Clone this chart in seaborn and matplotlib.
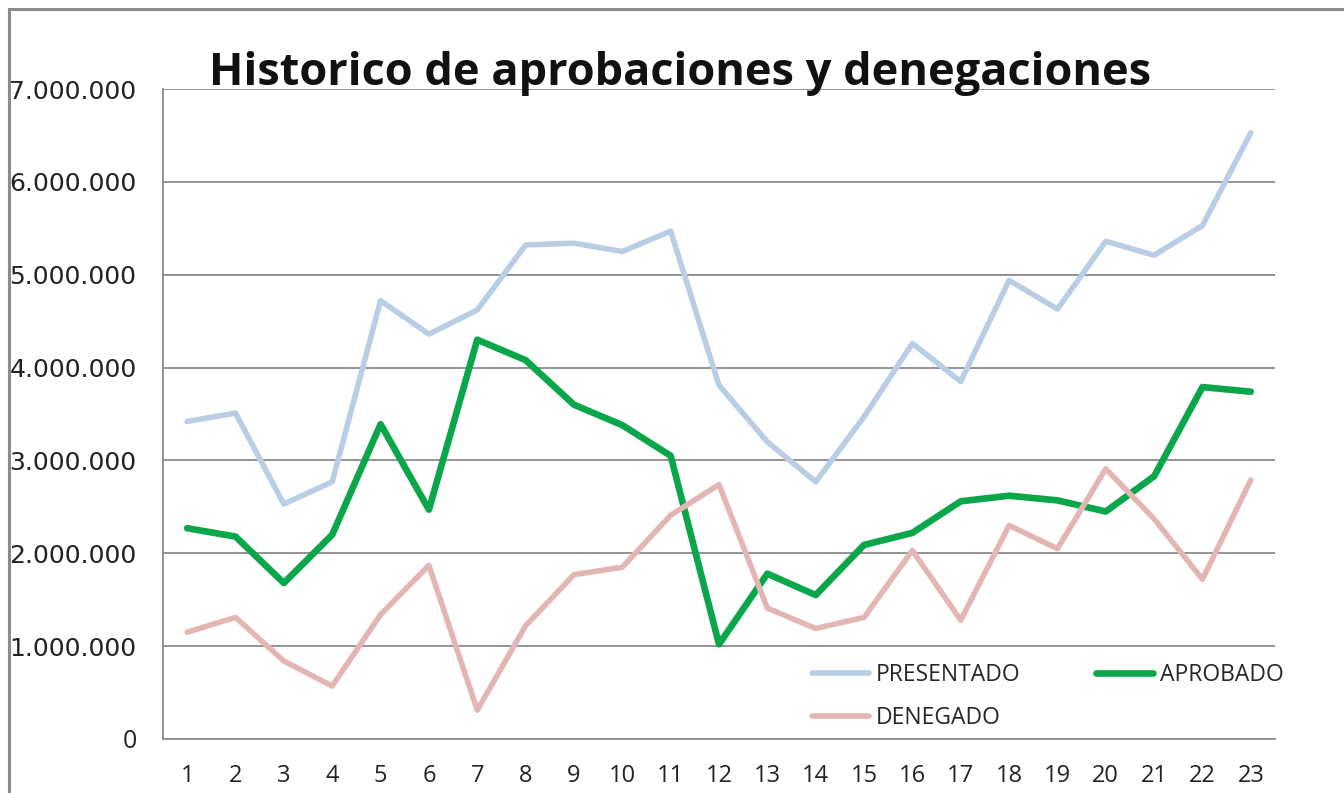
import matplotlib
matplotlib.use("Agg")
import matplotlib.pyplot as plt
import seaborn as sns
import pandas as pd
from matplotlib.patches import Rectangle
from matplotlib.lines import Line2D

# Data
periodos = list(range(1, 24))
presentado = [3.42, 3.51, 2.53, 2.77, 4.72, 4.36, 4.62, 5.32, 5.34, 5.25, 5.47, 3.81,
              3.20, 2.77, 3.47, 4.26, 3.85, 4.94, 4.63, 5.36, 5.21, 5.53, 6.53]
aprobado = [2.27, 2.18, 1.68, 2.20, 3.39, 2.47, 4.30, 4.08, 3.60, 3.38, 3.05, 1.02,
            1.78, 1.55, 2.09, 2.22, 2.56, 2.62, 2.57, 2.45, 2.83, 3.79, 3.74]
denegado = [1.15, 1.31, 0.84, 0.57, 1.34, 1.87, 0.31, 1.22, 1.77, 1.85, 2.41, 2.74,
            1.41, 1.19, 1.31, 2.03, 1.28, 2.30, 2.05, 2.91, 2.37, 1.72, 2.79]
series = ["PRESENTADO", "APROBADO", "DENEGADO"]
colores = {"PRESENTADO": "#B9CDE5", "APROBADO": "#0AA64A", "DENEGADO": "#E3B6B5"}
y_ticks = [0, 1e6, 2e6, 3e6, 4e6, 5e6, 6e6, 7e6]
y_labels = ["0", "1.000.000", "2.000.000", "3.000.000", "4.000.000",
            "5.000.000", "6.000.000", "7.000.000"]

df = pd.DataFrame({
    "periodo": periodos * 3,
    "valor": [v * 1e6 for v in presentado + aprobado + denegado],
    "serie": [s for s in series for _ in periodos],
})

sns.set_style("white")

fig = plt.figure(figsize=(13.44, 7.93), dpi=100)
ax = fig.add_axes([163 / 1344, 1 - 739 / 793, (1275 - 163) / 1344, (739 - 89) / 793])

# outer chart border
fig.patches.append(Rectangle((9 / 1344, -0.1), 1.2, 1 - 9 / 793 + 0.1,
                             transform=fig.transFigure, fill=False,
                             edgecolor="#8C8C8C", linewidth=2.2, zorder=0))

for y in y_ticks[1:]:
    ax.axhline(y, color="#8A8A8A", linewidth=1.3, zorder=1)

sns.lineplot(data=df, x="periodo", y="valor", hue="serie", hue_order=series,
             palette=colores, linewidth=4, ax=ax, legend=False, zorder=3)
ax.lines[-2].set_linewidth(4.8)

ax.set_xlim(0.5, 23.5)
ax.set_ylim(0, 7e6)
ax.set_xticks(periodos)
ax.set_xticklabels([str(p) for p in periodos], fontfamily="Open Sans", fontsize=17,
                   color="#222222")
ax.set_yticks(y_ticks)
ax.set_yticklabels(y_labels, fontfamily="DejaVu Sans", fontsize=18, color="#222222")
ax.get_yticklabels()[0].set_fontfamily("Open Sans")
ax.tick_params(axis="y", pad=19, length=0)
ax.tick_params(axis="x", pad=18, length=0)
ax.set_xlabel("")
ax.set_ylabel("")

for side in ["top", "right"]:
    ax.spines[side].set_visible(False)
ax.spines["left"].set_color("#8A8A8A")
ax.spines["left"].set_linewidth(1.3)
ax.spines["bottom"].set_color("#8A8A8A")
ax.spines["bottom"].set_linewidth(1.3)

# legend
handles = {s: Line2D([], [], color=colores[s], linewidth=4.8 if s == "APROBADO" else 4)
           for s in series}
leg = fig.legend([handles["PRESENTADO"], handles["DENEGADO"], handles["APROBADO"]],
                 ["PRESENTADO", "DENEGADO", "APROBADO"],
                 loc="upper left", bbox_to_anchor=(791 / 1344, 1 - 642 / 793),
                 ncol=2, frameon=False, handlelength=2.5, handletextpad=0.3,
                 columnspacing=3.3, labelspacing=0.85,
                 prop={"family": "Open Sans", "size": 16.5})

fig.text(680 / 1344, 1 - 73 / 793, "Historico de aprobaciones y denegaciones",
         ha="center", va="center", fontsize=32.5, fontweight="bold",
         fontfamily="Open Sans", color="#111111")

fig.savefig("out.png", dpi=100, facecolor="white")
